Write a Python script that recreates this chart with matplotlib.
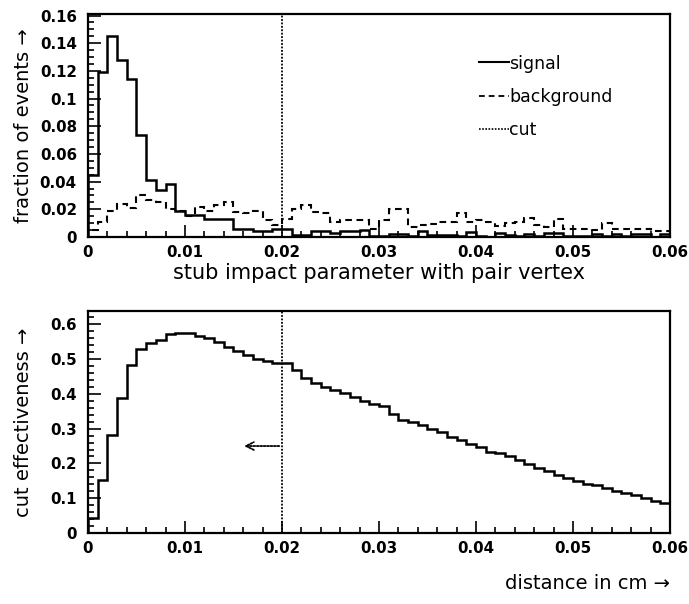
import numpy as np
import matplotlib
matplotlib.use("Agg")
import matplotlib.pyplot as plt
from matplotlib.lines import Line2D
from matplotlib.ticker import MultipleLocator, FuncFormatter

matplotlib.rcParams["font.family"] = "DejaVu Sans"

# 60 bins of 0.001 cm from 0 to 0.06
bin_edges = np.round(np.arange(0, 0.0605, 0.001), 4)

signal = [0.045, 0.119, 0.145, 0.128, 0.114, 0.074, 0.041, 0.034, 0.038, 0.019,
          0.016, 0.016, 0.013, 0.013, 0.013, 0.006, 0.006, 0.0045, 0.0045, 0.006,
          0.006, 0.0014, 0.0014, 0.004, 0.004, 0.0026, 0.004, 0.004, 0.005, 0.001,
          0.0005, 0.002, 0.002, 0.0005, 0.004, 0.0014, 0.0014, 0.0014, 0.0005, 0.0033,
          0.0005, 0.0, 0.003, 0.0014, 0.0005, 0.002, 0.0005, 0.0026, 0.0026, 0.001,
          0.001, 0.001, 0.002, 0.001, 0.002, 0.001, 0.002, 0.002, 0.0, 0.002]

background = [0.005, 0.011, 0.019, 0.024, 0.021, 0.030, 0.027, 0.025, 0.020, 0.019,
              0.015, 0.022, 0.019, 0.023, 0.025, 0.018, 0.017, 0.019, 0.012, 0.009,
              0.013, 0.020, 0.023, 0.018, 0.017, 0.011, 0.012, 0.012, 0.012, 0.006,
              0.012, 0.020, 0.020, 0.0074, 0.0085, 0.0095, 0.011, 0.011, 0.017, 0.011,
              0.012, 0.011, 0.008, 0.010, 0.011, 0.014, 0.009, 0.007, 0.013, 0.006,
              0.006, 0.006, 0.005, 0.010, 0.006, 0.006, 0.006, 0.006, 0.004, 0.004]

effectiveness = [0.043, 0.153, 0.283, 0.388, 0.484, 0.529, 0.546, 0.554, 0.572, 0.575,
                 0.575, 0.567, 0.560, 0.548, 0.534, 0.522, 0.512, 0.500, 0.495, 0.490,
                 0.488, 0.469, 0.445, 0.431, 0.420, 0.412, 0.403, 0.391, 0.379, 0.372,
                 0.365, 0.342, 0.325, 0.318, 0.311, 0.300, 0.290, 0.276, 0.267, 0.257,
                 0.246, 0.234, 0.229, 0.222, 0.209, 0.197, 0.187, 0.178, 0.167, 0.159,
                 0.150, 0.142, 0.138, 0.129, 0.122, 0.115, 0.108, 0.101, 0.091, 0.085]

cut_value = 0.02
arrow_tip = 0.0158
arrow_level = 0.25

SOLID = "-"
DASHED = (0, (3.2, 2.2))
DOTTED = (0, (1, 0.9))


def fmt_tick(v, pos):
    if abs(v) < 1e-12:
        return "0"
    return f"{v:g}"


def style_axes(ax, y_major, y_minor, ymax):
    ax.set_xlim(0, 0.06)
    ax.set_ylim(0, ymax)
    ax.xaxis.set_major_locator(MultipleLocator(0.01))
    ax.xaxis.set_minor_locator(MultipleLocator(0.002))
    ax.yaxis.set_major_locator(MultipleLocator(y_major))
    ax.yaxis.set_minor_locator(MultipleLocator(y_minor))
    ax.xaxis.set_major_formatter(FuncFormatter(fmt_tick))
    ax.yaxis.set_major_formatter(FuncFormatter(fmt_tick))
    ax.tick_params(which="both", direction="in", top=False, right=False,
                   width=1.2, labelsize=10.8, color="black")
    ax.tick_params(which="major", length=9)
    ax.tick_params(which="minor", length=4.5)
    ax.tick_params(axis="x", pad=6)
    ax.tick_params(axis="y", pad=8)
    for lab in ax.get_xticklabels() + ax.get_yticklabels():
        lab.set_fontweight("bold")
    for sp in ax.spines.values():
        sp.set_linewidth(1.6)


fig = plt.figure(figsize=(6.89, 6.04), dpi=100)
ax1 = fig.add_axes([0.1277, 0.6076, 0.8447, 0.369])
ax2 = fig.add_axes([0.1277, 0.1175, 0.8447, 0.3676])

# Top panel: impact parameter distributions
ax1.stairs(signal, bin_edges, color="black", lw=1.8, linestyle=SOLID)
ax1.stairs(background, bin_edges, color="black", lw=1.5, linestyle=DASHED)
ax1.axvline(cut_value, color="black", lw=1.3, linestyle=DOTTED)
style_axes(ax1, 0.02, 0.005, 0.161)
ax1.set_xlabel("stub impact parameter with pair vertex", fontsize=15, labelpad=2)
ax1.set_ylabel("fraction of events \u2192", fontsize=14)
ax1.yaxis.set_label_coords(-0.095, 0.5)

handles = [Line2D([], [], color="black", lw=1.5, linestyle=SOLID),
           Line2D([], [], color="black", lw=1.3, linestyle=DASHED),
           Line2D([], [], color="black", lw=1.2, linestyle=DOTTED)]
ax1.legend(handles, ["signal", "background", "cut"], loc="upper left",
           bbox_to_anchor=(0.66, 0.85), frameon=False, handlelength=1.7,
           handletextpad=0.05, labelspacing=0.88, fontsize=12.5, borderaxespad=0)

# Bottom panel: cut effectiveness
ax2.stairs(effectiveness, bin_edges, color="black", lw=1.8)
ax2.axvline(cut_value, color="black", lw=1.3, linestyle=DOTTED)
ax2.annotate("", xy=(arrow_tip, arrow_level), xytext=(cut_value, arrow_level),
             arrowprops=dict(arrowstyle="->", color="black", lw=1.3,
                             linestyle=DOTTED, mutation_scale=14))
style_axes(ax2, 0.1, 0.02, 0.638)
ax2.set_ylabel("cut effectiveness \u2192", fontsize=14)
ax2.yaxis.set_label_coords(-0.095, 0.5)
ax2.set_xlabel("distance in cm \u2192", fontsize=14)
ax2.xaxis.set_label_coords(1.0, -0.185)
ax2.xaxis.label.set_horizontalalignment("right")

fig.savefig("out.png", dpi=100)
